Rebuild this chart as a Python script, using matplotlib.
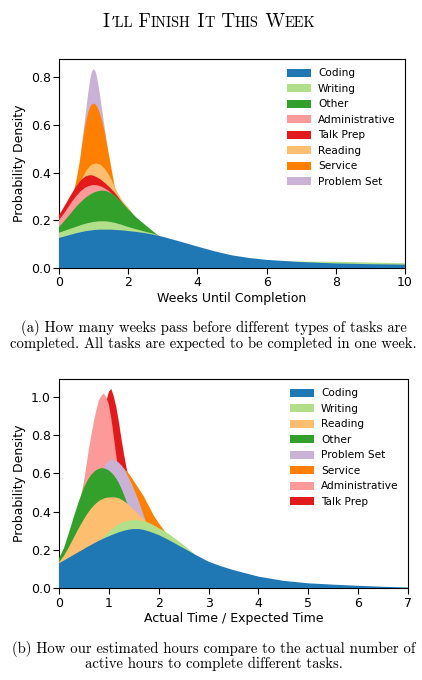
import matplotlib
matplotlib.use('Agg')
import matplotlib.pyplot as plt
from matplotlib.patches import Patch

plt.rcParams['font.family'] = ['DejaVu Sans']
plt.rcParams['font.size'] = 9

# ---------------- Data: panel (a) weeks until completion ----------------
weeks = [0.0, 0.1, 0.2, 0.3, 0.4, 0.5, 0.6, 0.65, 0.7, 0.75, 0.8, 0.85, 0.9, 0.95,
         1.0, 1.05, 1.1, 1.15, 1.2, 1.25, 1.3, 1.35, 1.4, 1.45, 1.5,
         1.6, 1.7, 1.8, 1.9, 2.0, 2.25, 2.5, 2.75, 3.0, 3.5, 4.0, 4.5, 5.0,
         5.5, 6.0, 7.0, 8.0, 9.0, 10.0]

coding_a = [0.126, 0.13, 0.134, 0.138, 0.142, 0.146, 0.149, 0.151, 0.152, 0.154, 0.155,
            0.156, 0.157, 0.158, 0.159, 0.16, 0.16, 0.161, 0.161, 0.161, 0.161,
            0.161, 0.161, 0.161, 0.161, 0.16, 0.159, 0.158, 0.157, 0.155,
            0.151, 0.146, 0.139, 0.131, 0.111, 0.09, 0.07, 0.053, 0.042, 0.034,
            0.025, 0.019, 0.016, 0.014]
writing_a = [0.148, 0.153, 0.158, 0.163, 0.168, 0.173, 0.178, 0.181, 0.183, 0.185, 0.187,
             0.189, 0.19, 0.192, 0.193, 0.194, 0.195, 0.196, 0.196, 0.196, 0.196,
             0.196, 0.195, 0.194, 0.193, 0.19, 0.186, 0.182, 0.177, 0.172,
             0.162, 0.152, 0.143, 0.128, 0.09, 0.06, 0.045, 0.035, 0.029, 0.026,
             0.027, 0.026, 0.023, 0.02]
other_a = [0.172, 0.188, 0.205, 0.222, 0.24, 0.257, 0.272, 0.279, 0.286, 0.292, 0.298,
           0.303, 0.308, 0.312, 0.316, 0.319, 0.321, 0.323, 0.324, 0.325, 0.324,
           0.323, 0.321, 0.318, 0.315, 0.306, 0.293, 0.278, 0.263, 0.247,
           0.21, 0.18, 0.15, 0.122, 0.075, 0.045, 0.025, 0.013, 0.006, 0.002,
           0.0, 0.0, 0.0, 0.0]
admin_a = [0.20, 0.22, 0.24, 0.262, 0.283, 0.302, 0.318, 0.325, 0.331, 0.336, 0.34,
           0.343, 0.345, 0.347, 0.348, 0.348, 0.347, 0.345, 0.343, 0.34, 0.336,
           0.332, 0.327, 0.322, 0.316, 0.302, 0.285, 0.265, 0.245, 0.225,
           0.175, 0.13, 0.095, 0.065, 0.03, 0.012, 0.004, 0.0, 0.0, 0.0,
           0.0, 0.0, 0.0, 0.0]
talk_a = [0.222, 0.245, 0.27, 0.295, 0.32, 0.343, 0.362, 0.37, 0.376, 0.382, 0.386,
          0.388, 0.389, 0.389, 0.387, 0.384, 0.38, 0.376, 0.372, 0.366, 0.36,
          0.354, 0.347, 0.34, 0.333, 0.318, 0.30, 0.28, 0.26, 0.24,
          0.19, 0.145, 0.11, 0.08, 0.04, 0.018, 0.007, 0.002, 0.0, 0.0,
          0.0, 0.0, 0.0, 0.0]
reading_a = [0.15, 0.17, 0.20, 0.23, 0.27, 0.31, 0.35, 0.368, 0.385, 0.398, 0.41,
             0.42, 0.428, 0.433, 0.436, 0.438, 0.438, 0.436, 0.433, 0.427, 0.42,
             0.411, 0.40, 0.388, 0.375, 0.345, 0.315, 0.29, 0.27, 0.255,
             0.20, 0.16, 0.125, 0.095, 0.055, 0.03, 0.015, 0.007, 0.003, 0.0,
             0.0, 0.0, 0.0, 0.0]
service_a = [0.10, 0.13, 0.17, 0.22, 0.30, 0.365, 0.445, 0.497, 0.545, 0.59, 0.625,
             0.655, 0.675, 0.686, 0.69, 0.687, 0.678, 0.662, 0.64, 0.615, 0.585,
             0.55, 0.51, 0.47, 0.43, 0.35, 0.28, 0.22, 0.17, 0.13,
             0.08, 0.05, 0.03, 0.015, 0.005, 0.0, 0.0, 0.0, 0.0, 0.0,
             0.0, 0.0, 0.0, 0.0]
problem_a = [0.12, 0.15, 0.19, 0.24, 0.29, 0.355, 0.43, 0.495, 0.56, 0.62, 0.68,
             0.74, 0.79, 0.822, 0.835, 0.827, 0.80, 0.76, 0.71, 0.66, 0.61,
             0.555, 0.50, 0.45, 0.40, 0.32, 0.25, 0.19, 0.15, 0.12,
             0.07, 0.04, 0.02, 0.01, 0.003, 0.0, 0.0, 0.0, 0.0, 0.0,
             0.0, 0.0, 0.0, 0.0]

labels_a = ['Coding', 'Writing', 'Other', 'Administrative', 'Talk Prep',
            'Reading', 'Service', 'Problem Set']
series_a = [coding_a, writing_a, other_a, admin_a, talk_a, reading_a,
            service_a, problem_a]

# ---------------- Data: panel (b) actual / expected time ----------------
ratio = [0.0, 0.1, 0.2, 0.3, 0.4, 0.5, 0.55, 0.6, 0.65, 0.7, 0.75, 0.8, 0.85, 0.9,
         0.95, 1.0, 1.05, 1.1, 1.15, 1.2, 1.25, 1.3, 1.35, 1.4, 1.45, 1.5,
         1.6, 1.7, 1.8, 1.9, 2.0, 2.1, 2.2, 2.3, 2.4, 2.5, 2.75, 3.0, 3.25,
         3.5, 4.0, 4.5, 5.0, 5.5, 6.0, 6.5, 7.0]

coding_b = [0.13, 0.145, 0.16, 0.175, 0.19, 0.205, 0.213, 0.22, 0.227, 0.234, 0.241,
            0.248, 0.254, 0.26, 0.266, 0.271, 0.277, 0.282, 0.287, 0.292, 0.296,
            0.3, 0.303, 0.306, 0.308, 0.309, 0.309, 0.305, 0.297, 0.288, 0.278,
            0.265, 0.252, 0.238, 0.223, 0.209, 0.173, 0.139, 0.115, 0.095, 0.061,
            0.039, 0.026, 0.019, 0.013, 0.008, 0.004]
writing_b = [0.10, 0.115, 0.13, 0.145, 0.162, 0.18, 0.19, 0.2, 0.211, 0.222, 0.233,
             0.245, 0.257, 0.27, 0.283, 0.295, 0.306, 0.316, 0.326, 0.334, 0.341,
             0.346, 0.35, 0.353, 0.355, 0.356, 0.355, 0.35, 0.342, 0.329, 0.314,
             0.3, 0.284, 0.265, 0.245, 0.226, 0.172, 0.13, 0.1, 0.07, 0.035,
             0.016, 0.006, 0.002, 0.0, 0.0, 0.0]
reading_b = [0.134, 0.17, 0.215, 0.265, 0.315, 0.36, 0.381, 0.40, 0.417, 0.432, 0.444,
             0.455, 0.462, 0.468, 0.472, 0.474, 0.475, 0.475, 0.473, 0.47, 0.463,
             0.455, 0.446, 0.435, 0.423, 0.41, 0.385, 0.36, 0.335, 0.31, 0.285,
             0.26, 0.235, 0.21, 0.19, 0.17, 0.125, 0.09, 0.065, 0.045, 0.02,
             0.008, 0.003, 0.0, 0.0, 0.0, 0.0]
other_b = [0.156, 0.21, 0.29, 0.375, 0.455, 0.525, 0.552, 0.575, 0.593, 0.607, 0.617,
           0.623, 0.627, 0.626, 0.622, 0.615, 0.604, 0.59, 0.572, 0.55, 0.522,
           0.49, 0.455, 0.42, 0.385, 0.35, 0.28, 0.22, 0.17, 0.13, 0.10,
           0.075, 0.055, 0.04, 0.03, 0.022, 0.01, 0.005, 0.002, 0.0, 0.0,
           0.0, 0.0, 0.0, 0.0, 0.0, 0.0]
problem_b = [0.08, 0.12, 0.17, 0.23, 0.30, 0.37, 0.405, 0.44, 0.475, 0.51, 0.543,
             0.575, 0.604, 0.63, 0.65, 0.666, 0.672, 0.671, 0.665, 0.655, 0.642,
             0.625, 0.602, 0.575, 0.549, 0.52, 0.455, 0.38, 0.31, 0.245, 0.19,
             0.145, 0.11, 0.08, 0.06, 0.045, 0.02, 0.01, 0.005, 0.002, 0.0,
             0.0, 0.0, 0.0, 0.0, 0.0, 0.0]
service_b = [0.05, 0.08, 0.11, 0.15, 0.2, 0.26, 0.29, 0.32, 0.355, 0.39, 0.425,
             0.46, 0.49, 0.52, 0.546, 0.57, 0.59, 0.605, 0.617, 0.625, 0.628,
             0.625, 0.613, 0.598, 0.58, 0.56, 0.52, 0.48, 0.43, 0.38, 0.34,
             0.305, 0.27, 0.235, 0.2, 0.17, 0.11, 0.07, 0.045, 0.03, 0.012,
             0.005, 0.0, 0.0, 0.0, 0.0, 0.0]
admin_b = [0.08, 0.11, 0.17, 0.29, 0.43, 0.555, 0.64, 0.725, 0.80, 0.87, 0.93,
           0.98, 1.005, 1.016, 0.995, 0.96, 0.885, 0.79, 0.69, 0.60, 0.515,
           0.44, 0.375, 0.32, 0.27, 0.23, 0.16, 0.11, 0.075, 0.05, 0.035,
           0.025, 0.018, 0.012, 0.008, 0.005, 0.002, 0.0, 0.0, 0.0, 0.0,
           0.0, 0.0, 0.0, 0.0, 0.0, 0.0]
talk_b = [0.03, 0.05, 0.08, 0.13, 0.2, 0.29, 0.345, 0.41, 0.48, 0.56, 0.635,
          0.72, 0.81, 0.9, 0.975, 1.025, 1.04, 1.0, 0.945, 0.87, 0.785,
          0.705, 0.635, 0.57, 0.51, 0.45, 0.35, 0.27, 0.2, 0.15, 0.11,
          0.08, 0.06, 0.045, 0.033, 0.025, 0.012, 0.006, 0.002, 0.0, 0.0,
          0.0, 0.0, 0.0, 0.0, 0.0, 0.0]

labels_b = ['Coding', 'Writing', 'Reading', 'Other', 'Problem Set', 'Service',
            'Administrative', 'Talk Prep']
series_b = [coding_b, writing_b, reading_b, other_b, problem_b, service_b,
            admin_b, talk_b]

colors = {'Coding': '#1f77b4', 'Writing': '#b2df8a', 'Other': '#33a02c',
          'Administrative': '#fb9a99', 'Talk Prep': '#e31a1c',
          'Reading': '#fdbf6f', 'Service': '#ff7f00', 'Problem Set': '#cab2d6'}

title_text = "I\u2019ll Finish It This Week"
caption_a = ["(a) How many weeks pass before different types of tasks are",
             "completed. All tasks are expected to be completed in one week."]
caption_b = ["(b) How our estimated hours compare to the actual number of",
             "active hours to complete different tasks."]

W, H = 422, 680
fig = plt.figure(figsize=(W / 100, H / 100), dpi=100)
axa = fig.add_axes([59 / W, 1 - 268 / H, (405 - 59) / W, (268 - 59) / H])
axb = fig.add_axes([59 / W, 1 - 588.3 / H, (408 - 59) / W, (588.3 - 379) / H])


def draw_panel(ax, x, labels, series, xlim, ylim, xticks, yticks, xlabel):
    n = len(labels)
    for i in range(n - 1, -1, -1):
        ax.fill_between(x, 0, series[i], facecolor=colors[labels[i]],
                        linewidth=0, zorder=2 + (n - i))
    ax.set_xlim(*xlim)
    ax.set_ylim(*ylim)
    ax.set_xticks(xticks)
    ax.set_yticks(yticks)
    ax.set_yticklabels(['%.1f' % v for v in yticks])
    ax.set_xlabel(xlabel, fontsize=9, labelpad=2)
    ax.set_ylabel('Probability Density', fontsize=9, labelpad=3)
    ax.tick_params(labelsize=9, length=4, width=0.8, pad=2)
    handles = [Patch(facecolor=colors[l], edgecolor='none', label=l) for l in labels]
    ax.legend(handles=handles, loc='upper right', frameon=False, fontsize=7.6,
              labelspacing=0.52, handlelength=2.2, handleheight=0.75,
              handletextpad=0.7, borderaxespad=0.5)


draw_panel(axa, weeks, labels_a, series_a, (0, 10), (0, 0.877),
           [0, 2, 4, 6, 8, 10], [0.0, 0.2, 0.4, 0.6, 0.8], 'Weeks Until Completion')
draw_panel(axb, ratio, labels_b, series_b, (0, 7), (0, 1.092),
           [0, 1, 2, 3, 4, 5, 6, 7], [0.0, 0.2, 0.4, 0.6, 0.8, 1.0],
           'Actual Time / Expected Time')

serif = ['cmr10', 'DejaVu Serif']

# captions
for lines, ys in ((caption_a, (332.3, 347.7)), (caption_b, (653.3, 667.7))):
    for line, yb in zip(lines, ys):
        fig.text(213.5 / W, 1 - yb / H, line, ha='center', va='baseline',
                 family=serif, fontsize=10.6)

# small-caps title built from pieces
big, small = 13.8, 10.4
pieces = []
cur, cur_size = '', None
for ch in title_text:
    if ch.islower() or ch == "\u2019":
        s, c = small, ch.upper()
    else:
        s, c = big, ch
    if cur_size is None or s == cur_size:
        cur += c
        cur_size = s
    else:
        pieces.append((cur, cur_size))
        cur, cur_size = c, s
pieces.append((cur, cur_size))

renderer = fig.canvas.get_renderer()
texts = []
for p, s in pieces:
    t = fig.text(0, 1 - 27.0 / H, p, ha='left', va='baseline', family=serif,
                 fontsize=s)
    texts.append(t)
widths = [t.get_window_extent(renderer).width for t in texts]
total = sum(widths)
xpos = 209.0 - total / 2
for t, w in zip(texts, widths):
    t.set_x(xpos / W)
    xpos += w

fig.savefig('out.png', dpi=100)
